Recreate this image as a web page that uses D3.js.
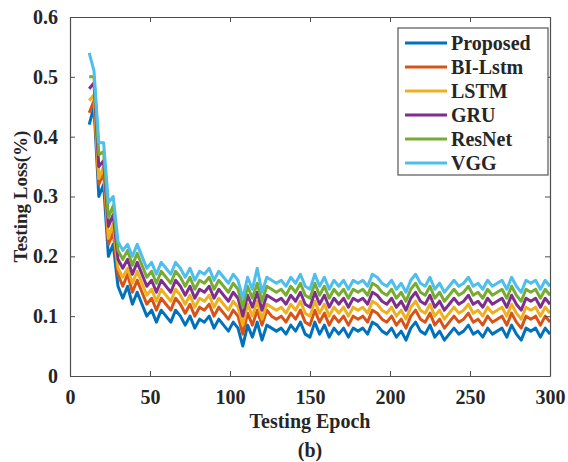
<!DOCTYPE html>
<html>
<head>
  <meta charset="utf-8">
  <script src="https://cdn.jsdelivr.net/npm/d3@7"></script>
  <style>
    body { margin: 0; background: #fff; }
    text { font-family: "Liberation Serif", "Times New Roman", serif; font-weight: bold; fill: #262626; }
  </style>
</head>
<body>
<script>
// epochs 12, 15, ... 300
var epochs = d3.range(12, 301, 3);

var seriesNames = ["Proposed", "BI-Lstm", "LSTM", "GRU", "ResNet", "VGG"];
var seriesColors = ["#0072BD", "#D95319", "#EDB120", "#7E2F8E", "#77AC30", "#4DBEEE"];

var proposed = [0.42,0.45,0.30,0.32,0.20,0.22,0.15,0.13,0.15,0.12,
  0.14,0.12,0.10,0.11,0.09,0.11,0.10,0.09,0.11,0.10,
  0.085,0.10,0.08,0.095,0.09,0.10,0.08,0.095,0.085,0.075,
  0.09,0.08,0.05,0.085,0.065,0.09,0.06,0.085,0.08,0.075,
  0.08,0.07,0.085,0.075,0.09,0.07,0.065,0.09,0.07,0.085,
  0.065,0.08,0.07,0.08,0.065,0.08,0.075,0.08,0.07,0.09,
  0.085,0.075,0.07,0.08,0.065,0.075,0.06,0.08,0.09,0.075,
  0.07,0.085,0.065,0.075,0.06,0.07,0.08,0.07,0.075,0.085,
  0.07,0.075,0.065,0.08,0.07,0.075,0.08,0.065,0.085,0.07,
  0.06,0.08,0.075,0.08,0.065,0.08,0.07];

var biLstm = [0.44,0.46,0.32,0.34,0.22,0.24,0.17,0.15,0.17,0.14,
  0.16,0.14,0.12,0.13,0.11,0.13,0.12,0.11,0.13,0.12,
  0.105,0.12,0.10,0.115,0.11,0.12,0.10,0.115,0.105,0.095,
  0.11,0.10,0.07,0.105,0.085,0.11,0.085,0.11,0.10,0.095,
  0.10,0.09,0.105,0.095,0.11,0.09,0.085,0.11,0.09,0.105,
  0.085,0.10,0.09,0.10,0.085,0.10,0.095,0.10,0.09,0.11,
  0.105,0.095,0.09,0.10,0.085,0.095,0.08,0.10,0.11,0.095,
  0.09,0.105,0.085,0.095,0.08,0.09,0.10,0.09,0.095,0.105,
  0.09,0.095,0.085,0.10,0.09,0.095,0.10,0.085,0.105,0.09,
  0.08,0.10,0.095,0.10,0.085,0.10,0.09];

var lstm = [0.46,0.47,0.33,0.35,0.23,0.255,0.18,0.165,0.18,0.155,
  0.175,0.155,0.135,0.145,0.125,0.145,0.135,0.125,0.145,0.135,
  0.12,0.135,0.115,0.13,0.125,0.135,0.115,0.13,0.12,0.11,
  0.125,0.115,0.085,0.12,0.10,0.125,0.095,0.12,0.115,0.11,
  0.115,0.105,0.12,0.11,0.125,0.105,0.10,0.125,0.105,0.12,
  0.10,0.115,0.105,0.115,0.10,0.115,0.11,0.115,0.105,0.125,
  0.12,0.11,0.105,0.115,0.10,0.11,0.095,0.115,0.125,0.11,
  0.105,0.12,0.10,0.11,0.095,0.105,0.115,0.105,0.11,0.12,
  0.105,0.11,0.10,0.115,0.105,0.11,0.115,0.10,0.12,0.105,
  0.095,0.115,0.11,0.115,0.10,0.115,0.105];

var gru = [0.48,0.49,0.35,0.36,0.25,0.27,0.195,0.18,0.195,0.17,
  0.19,0.17,0.15,0.16,0.14,0.16,0.15,0.14,0.16,0.15,
  0.135,0.15,0.13,0.145,0.14,0.15,0.13,0.145,0.135,0.125,
  0.14,0.13,0.10,0.135,0.115,0.14,0.11,0.135,0.13,0.125,
  0.13,0.12,0.135,0.125,0.14,0.12,0.115,0.14,0.12,0.135,
  0.115,0.13,0.12,0.13,0.115,0.13,0.125,0.13,0.12,0.14,
  0.135,0.125,0.12,0.13,0.115,0.125,0.11,0.13,0.14,0.125,
  0.12,0.135,0.115,0.125,0.11,0.12,0.13,0.12,0.125,0.135,
  0.12,0.125,0.115,0.13,0.12,0.125,0.13,0.115,0.135,0.12,
  0.11,0.13,0.125,0.13,0.115,0.13,0.12];

var resNet = [0.50,0.50,0.37,0.375,0.265,0.285,0.21,0.195,0.21,0.185,
  0.205,0.185,0.165,0.175,0.155,0.175,0.165,0.155,0.175,0.165,
  0.15,0.165,0.145,0.16,0.155,0.165,0.145,0.16,0.15,0.14,
  0.155,0.145,0.115,0.15,0.13,0.155,0.125,0.15,0.145,0.14,
  0.145,0.135,0.15,0.14,0.155,0.135,0.13,0.155,0.135,0.15,
  0.13,0.145,0.135,0.145,0.13,0.145,0.14,0.145,0.135,0.155,
  0.15,0.14,0.135,0.145,0.13,0.14,0.125,0.145,0.155,0.14,
  0.135,0.15,0.13,0.14,0.125,0.135,0.145,0.135,0.14,0.15,
  0.135,0.14,0.13,0.145,0.135,0.14,0.145,0.13,0.15,0.135,
  0.125,0.145,0.14,0.145,0.13,0.145,0.135];

var vgg = [0.54,0.51,0.39,0.39,0.29,0.30,0.225,0.21,0.22,0.20,
  0.22,0.20,0.18,0.19,0.17,0.19,0.18,0.17,0.19,0.18,
  0.165,0.18,0.16,0.175,0.17,0.18,0.16,0.175,0.165,0.155,
  0.17,0.16,0.13,0.165,0.145,0.18,0.14,0.165,0.16,0.155,
  0.16,0.15,0.165,0.155,0.17,0.15,0.145,0.17,0.15,0.165,
  0.145,0.16,0.15,0.16,0.145,0.16,0.155,0.16,0.15,0.17,
  0.165,0.155,0.15,0.16,0.145,0.155,0.14,0.16,0.17,0.155,
  0.15,0.165,0.145,0.155,0.14,0.15,0.16,0.15,0.155,0.165,
  0.15,0.155,0.145,0.16,0.15,0.155,0.16,0.145,0.165,0.15,
  0.14,0.16,0.155,0.16,0.145,0.16,0.15];

var allSeries = [proposed, biLstm, lstm, gru, resNet, vgg];

var xTicks = [0, 50, 100, 150, 200, 250, 300];
var yTicks = [0, 0.1, 0.2, 0.3, 0.4, 0.5, 0.6];

var W = 568, H = 462;
var plotLeft = 70, plotRight = 550, plotTop = 17, plotBottom = 376;

var svg = d3.select("body").append("svg")
  .attr("width", W).attr("height", H);

var x = d3.scaleLinear().domain([0, 300]).range([plotLeft, plotRight]);
var y = d3.scaleLinear().domain([0, 0.6]).range([plotBottom, plotTop]);

var line = d3.line()
  .x(function(d, i) { return x(epochs[i]); })
  .y(function(d) { return y(d); });

var g = svg.append("g");
allSeries.forEach(function(s, k) {
  g.append("path")
    .datum(s)
    .attr("fill", "none")
    .attr("stroke", seriesColors[k])
    .attr("stroke-width", 3)
    .attr("stroke-linejoin", "round")
    .attr("d", line);
});

// axes, ticks inward like matlab
var axisColor = "#4d4d4d";
var xb = svg.append("g").attr("transform", "translate(0," + plotBottom + ")")
  .call(d3.axisBottom(x).tickValues(xTicks).tickSizeInner(-5).tickSizeOuter(0).tickPadding(14));
var xt = svg.append("g").attr("transform", "translate(0," + plotTop + ")")
  .call(d3.axisTop(x).tickValues(xTicks).tickSizeInner(-5).tickSizeOuter(0).tickFormat(""));
var yl = svg.append("g").attr("transform", "translate(" + plotLeft + ",0)")
  .call(d3.axisLeft(y).tickValues(yTicks).tickSizeInner(-5).tickSizeOuter(0).tickPadding(12)
    .tickFormat(function(d) { return d === 0 ? "0" : d3.format(".1f")(d); }));
var yr = svg.append("g").attr("transform", "translate(" + plotRight + ",0)")
  .call(d3.axisRight(y).tickValues(yTicks).tickSizeInner(-5).tickSizeOuter(0).tickFormat(""));

[xb, xt, yl, yr].forEach(function(a) {
  a.select(".domain").attr("stroke", axisColor).attr("stroke-width", 1.2);
  a.selectAll(".tick line").attr("stroke", axisColor);
  a.selectAll(".tick text")
    .style("font-family", "'Liberation Serif', serif")
    .style("font-weight", "bold")
    .style("font-size", "20px")
    .attr("fill", "#262626");
});

svg.append("text")
  .attr("x", (plotLeft + plotRight) / 2).attr("y", 428)
  .attr("text-anchor", "middle")
  .style("font-size", "20px")
  .text("Testing Epoch");

svg.append("text")
  .attr("x", (plotLeft + plotRight) / 2).attr("y", 457)
  .attr("text-anchor", "middle")
  .style("font-size", "20px")
  .text("(b)");

svg.append("text")
  .attr("transform", "translate(27," + ((plotTop + plotBottom) / 2) + ") rotate(-90)")
  .attr("text-anchor", "middle")
  .style("font-size", "19px")
  .text("Testing Loss(%)");

// legend
var legend = svg.append("g");
legend.append("rect")
  .attr("x", 398).attr("y", 28)
  .attr("width", 150).attr("height", 147)
  .attr("fill", "#fff")
  .attr("stroke", "#555").attr("stroke-width", 1.2);

seriesNames.forEach(function(name, i) {
  var ly = 43 + i * 24;
  legend.append("line")
    .attr("x1", 405).attr("x2", 447)
    .attr("y1", ly).attr("y2", ly)
    .attr("stroke", seriesColors[i]).attr("stroke-width", 2.8);
  legend.append("text")
    .attr("x", 451).attr("y", ly + 7)
    .style("font-size", "20px")
    .text(name);
});
</script>
</body>
</html>
